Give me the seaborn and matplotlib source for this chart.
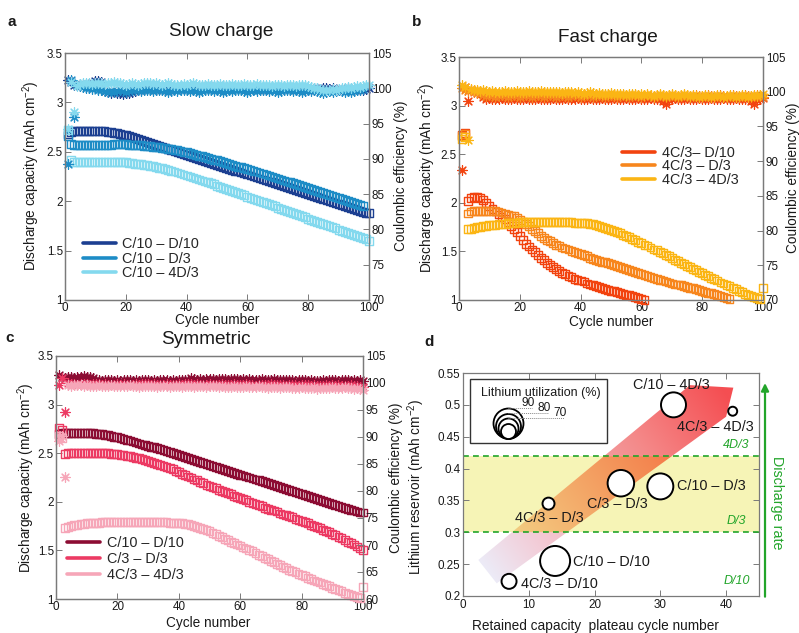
import numpy as np
import pandas as pd
import matplotlib
matplotlib.use("Agg")
import matplotlib.pyplot as plt
import seaborn as sns
from matplotlib.lines import Line2D
from matplotlib.patches import Polygon, Rectangle

# ----------------------------------------------------------------- data
cap_ticks = [1, 1.5, 2, 2.5, 3, 3.5]
cap_tick_labels = ["1", "1.5", "2", "2.5", "3", "3.5"]
cycle_ticks = [0, 20, 40, 60, 80, 100]

# Panel a: slow charge
a_labels = ["C/10 \u2013 D/10", "C/10 \u2013 D/3", "C/10 \u2013 4D/3"]
a_colors = ["#1c3f91", "#1d8cc6", "#84d9ee"]
a_cap_d10 = [2.68,2.70,2.71,2.71,2.71,2.71,2.71,2.71,2.71,2.71,
             2.71,2.71,2.71,2.70,2.70,2.69,2.69,2.68,2.67,2.67,
             2.66,2.65,2.64,2.63,2.62,2.61,2.60,2.59,2.58,2.57,
             2.56,2.55,2.54,2.53,2.52,2.51,2.50,2.49,2.48,2.47,
             2.46,2.45,2.44,2.43,2.42,2.41,2.40,2.39,2.38,2.37,
             2.36,2.35,2.34,2.33,2.32,2.31,2.30,2.29,2.28,2.27,
             2.26,2.25,2.24,2.23,2.22,2.21,2.20,2.19,2.18,2.17,
             2.16,2.15,2.14,2.13,2.12,2.11,2.10,2.09,2.08,2.07,
             2.06,2.05,2.04,2.03,2.02,2.01,2.00,1.99,1.98,1.97,
             1.96,1.95,1.94,1.93,1.92,1.91,1.90,1.89,1.88,1.88]
a_cap_d3 = [2.66,2.58,2.57,2.57,2.57,2.57,2.57,2.57,2.57,2.57,
            2.57,2.57,2.57,2.57,2.57,2.58,2.58,2.58,2.58,2.58,
            2.57,2.57,2.57,2.57,2.57,2.56,2.56,2.56,2.55,2.55,
            2.55,2.54,2.54,2.53,2.53,2.52,2.52,2.51,2.50,2.50,
            2.49,2.48,2.47,2.46,2.46,2.45,2.44,2.43,2.42,2.42,
            2.41,2.40,2.39,2.38,2.37,2.36,2.35,2.35,2.34,2.33,
            2.32,2.31,2.30,2.29,2.28,2.27,2.26,2.25,2.24,2.23,
            2.22,2.21,2.20,2.19,2.18,2.17,2.16,2.15,2.14,2.13,
            2.12,2.11,2.10,2.09,2.08,2.07,2.06,2.05,2.04,2.03,
            2.02,2.01,2.00,1.99,1.98,1.97,1.96,1.95]
a_cap_4d3 = [2.72,2.42,2.40,2.40,2.40,2.40,2.40,2.40,2.40,2.40,
             2.40,2.40,2.40,2.40,2.40,2.40,2.40,2.40,2.40,2.40,
             2.39,2.39,2.38,2.38,2.38,2.37,2.37,2.36,2.36,2.35,
             2.34,2.34,2.33,2.32,2.31,2.30,2.29,2.28,2.27,2.26,
             2.25,2.24,2.23,2.22,2.21,2.20,2.19,2.18,2.17,2.15,
             2.14,2.13,2.12,2.11,2.10,2.09,2.08,2.07,2.06,2.04,
             2.03,2.02,2.01,2.00,1.99,1.98,1.97,1.96,1.95,1.93,
             1.92,1.91,1.90,1.89,1.88,1.87,1.86,1.85,1.84,1.82,
             1.81,1.80,1.79,1.78,1.77,1.76,1.75,1.74,1.73,1.71,
             1.70,1.69,1.68,1.67,1.66,1.65,1.64,1.63,1.62,1.60]
a_ce_d10 = [101.2,100.9,100.5,100.4,100.6,100.5,100.4,100.6,100.8,101.0,
            101.1,100.9,99.6,99.5,99.4,99.5,99.3,99.4,99.2,99.3,
            99.4,99.5,99.6,99.7,99.8,99.9,100.0,99.9,100.0,99.8,
            99.9,100.0,99.9,99.8,99.9,100.0,100.1,99.9,100.0,99.9,
            100.0,100.1,99.9,100.0,100.2,100.1,100.3,100.2,100.1,100.3,
            100.2,100.3,100.1,100.2,100.0,100.1,100.2,100.0,100.1,99.9,
            100.0,100.1,99.9,100.0,99.8,99.9,100.0,99.9,100.1,100.0,
            99.9,100.0,100.1,99.9,100.0,99.8,99.9,100.0,99.9,99.8,
            99.9,100.1,100.0,99.9,100.1,100.0,99.9,100.0,99.8,99.7,
            99.8,99.9,100.0,99.7,99.8,99.9,99.8,99.7,99.9,100.0]
a_ce_d3 = [89.3,101.2,96.0,100.5,100.3,100.2,100.1,100.0,99.9,100.0,
           99.8,99.7,99.6,99.5,99.6,99.5,99.6,99.7,99.6,99.5,
           99.6,99.7,99.8,99.7,99.6,99.7,99.8,99.7,99.6,99.7,
           99.8,99.7,99.6,99.5,99.6,99.7,99.6,99.7,99.8,99.7,
           99.6,99.7,99.6,99.5,99.6,99.7,99.8,99.7,99.6,99.7,
           99.6,99.5,99.6,99.7,99.6,99.7,99.8,99.7,99.6,99.5,
           99.6,99.7,99.6,99.7,99.8,99.7,99.6,99.7,99.6,99.5,
           99.6,99.7,99.8,99.7,99.6,99.7,99.6,99.5,99.6,99.7,
           99.6,99.7,99.6,99.5,99.4,99.5,99.6,99.5,99.6,99.7,
           99.6,99.5,99.6,99.5,99.6,99.7,99.8,99.9]
a_ce_4d3 = [94.2,100.9,96.7,100.3,100.6,100.7,100.8,100.7,100.6,100.7,
            100.8,100.7,100.6,100.7,100.8,100.9,100.8,100.7,100.6,100.5,
            100.6,100.7,100.6,100.5,100.6,100.7,100.8,100.7,100.6,100.7,
            100.6,100.5,100.6,100.7,100.6,100.5,100.4,100.5,100.6,100.5,
            100.6,100.7,100.6,100.5,100.4,100.5,100.6,100.5,100.4,100.5,
            100.6,100.5,100.4,100.5,100.6,100.5,100.4,100.5,100.6,100.5,
            100.4,100.5,100.6,100.5,100.4,100.5,100.4,100.3,100.4,100.5,
            100.4,100.3,100.4,100.5,100.4,100.3,100.4,100.5,100.4,100.3,
            100.2,100.1,100.0,99.9,99.8,99.7,99.8,99.9,99.8,99.9,
            100.0,100.1,100.2,100.1,100.2,100.3,100.2,100.3,100.4,100.5]

# Panel b: fast charge
b_labels = ["4C/3\u2013 D/10", "4C/3 \u2013 D/3", "4C/3 \u2013 4D/3"]
b_colors = ["#f2430f", "#f7861d", "#fbb514"]
b_cap_d10 = [2.70,2.72,2.02,2.05,2.06,2.06,2.05,2.03,2.00,1.97,
             1.94,1.91,1.88,1.85,1.83,1.80,1.76,1.73,1.70,1.66,
             1.62,1.58,1.55,1.52,1.49,1.46,1.43,1.41,1.38,1.36,
             1.34,1.32,1.30,1.28,1.27,1.25,1.24,1.22,1.21,1.20,
             1.19,1.17,1.16,1.15,1.14,1.13,1.12,1.11,1.10,1.09,
             1.09,1.08,1.07,1.06,1.05,1.05,1.04,1.03,1.02,1.01,
             1.00]
b_cap_d3 = [2.69,2.71,1.89,1.91,1.92,1.92,1.92,1.92,1.92,1.92,
            1.92,1.92,1.91,1.90,1.89,1.88,1.87,1.86,1.84,1.82,
            1.80,1.78,1.76,1.73,1.71,1.69,1.66,1.64,1.62,1.61,
            1.59,1.57,1.56,1.54,1.53,1.52,1.50,1.49,1.48,1.47,
            1.46,1.45,1.43,1.42,1.41,1.40,1.39,1.39,1.38,1.37,
            1.36,1.35,1.34,1.33,1.32,1.31,1.30,1.29,1.28,1.27,
            1.26,1.25,1.24,1.23,1.22,1.21,1.20,1.19,1.18,1.17,
            1.16,1.16,1.15,1.14,1.13,1.12,1.12,1.11,1.10,1.09,
            1.08,1.07,1.07,1.06,1.05,1.04,1.03,1.02,1.01]
b_cap_4d3 = [2.66,2.68,1.73,1.73,1.74,1.75,1.75,1.76,1.76,1.77,
             1.77,1.77,1.78,1.78,1.78,1.79,1.79,1.79,1.79,1.80,
             1.80,1.80,1.80,1.80,1.80,1.80,1.80,1.80,1.80,1.80,
             1.80,1.80,1.80,1.80,1.80,1.80,1.80,1.79,1.79,1.79,
             1.79,1.79,1.78,1.78,1.77,1.76,1.75,1.74,1.73,1.72,
             1.71,1.70,1.69,1.67,1.66,1.65,1.63,1.62,1.60,1.59,
             1.57,1.56,1.54,1.52,1.51,1.49,1.48,1.46,1.45,1.43,
             1.41,1.40,1.38,1.37,1.35,1.34,1.32,1.31,1.29,1.28,
             1.26,1.25,1.23,1.22,1.20,1.18,1.17,1.15,1.14,1.12,
             1.11,1.09,1.08,1.06,1.05,1.04,1.03,1.02,1.01,1.12]
b_ce_d10 = [88.7,100.7,98.7,100.2,100.1,100.0,99.9,99.2,99.0,99.1,
            99.0,98.9,99.0,99.1,99.0,98.9,99.0,99.1,99.0,98.9,
            99.0,99.1,99.0,98.9,99.0,99.1,99.0,99.0,98.9,99.0,
            99.1,99.0,98.9,99.0,99.1,99.0,98.9,99.0,99.1,99.0,
            98.9,99.0,99.1,99.0,98.9,99.0,99.1,99.0,98.9,99.0,
            99.1,99.0,98.9,99.0,99.1,99.0,98.9,99.0,99.1,99.0,
            98.9,99.0,99.1,99.0,98.9,99.0,98.6,98.2,98.8,99.0,
            99.1,99.0,98.9,99.0,99.1,99.0,98.9,99.0,99.1,99.0,
            98.9,99.0,99.1,99.0,98.9,99.0,99.1,99.0,98.9,99.0,
            99.1,99.0,98.9,99.0,99.1,98.7,98.2,98.8,99.0,99.1]
b_ce_d3 = [100.6,100.3,100.1,100.2,100.0,99.8,99.6,99.5,99.4,99.5,
           99.4,99.3,99.4,99.5,99.4,99.3,99.4,99.5,99.4,99.3,
           99.4,99.5,99.4,99.3,99.4,99.5,99.4,99.3,99.4,99.5,
           99.4,99.3,99.4,99.5,99.4,99.3,99.4,99.5,99.4,99.3,
           99.4,99.5,99.4,99.3,99.4,99.5,99.4,99.3,99.4,99.5,
           99.4,99.3,99.4,99.5,99.4,99.3,99.4,99.5,99.4,99.3,
           99.4,99.5,99.4,99.3,99.4,99.5,99.4,99.3,99.4,99.5,
           99.4,99.3,99.4,99.5,99.4,99.3,99.4,99.5,99.4,99.3,
           99.4,99.5,99.4,99.3,99.4,99.5,99.4,99.3,99.4,99.5,
           99.4,99.3,99.4,99.5,99.4,99.3,99.4,99.5,99.4,99.3]
b_ce_4d3 = [100.9,100.7,93.0,100.4,100.3,100.2,100.1,100.2,100.1,100.0,
            100.1,100.0,99.9,100.0,100.1,100.0,99.9,100.0,100.1,100.0,
            99.9,100.0,100.1,100.0,99.9,100.0,100.1,100.0,99.9,100.0,
            99.9,100.0,99.9,99.8,99.9,100.0,99.9,99.8,99.9,99.8,
            99.7,99.8,99.9,99.8,99.7,99.8,99.7,99.6,99.7,99.8,
            99.7,99.6,99.7,99.6,99.5,99.6,99.7,99.6,99.5,99.6,
            99.5,99.6,99.5,99.4,99.5,99.6,99.5,99.4,99.5,99.6,
            99.5,99.4,99.5,99.6,99.5,99.4,99.5,99.4,99.3,99.4,
            99.5,99.4,99.3,99.4,99.5,99.4,99.3,99.4,99.5,99.4,
            99.3,99.4,99.5,99.4,99.3,99.4,99.5,99.4,99.5,99.6]

# Panel c: symmetric
c_labels = ["C/10 \u2013 D/10", "C/3 \u2013 D/3", "4C/3 \u2013 4D/3"]
c_colors = ["#8c0c33", "#ec3a63", "#f6a6b8"]
c_cap_d10 = [2.70,2.71,2.71,2.71,2.71,2.71,2.71,2.71,2.71,2.71,
             2.71,2.71,2.70,2.70,2.70,2.69,2.69,2.68,2.67,2.67,
             2.66,2.65,2.64,2.63,2.62,2.61,2.60,2.59,2.58,2.57,
             2.56,2.56,2.55,2.54,2.53,2.52,2.51,2.50,2.49,2.48,
             2.47,2.46,2.45,2.44,2.43,2.42,2.41,2.40,2.39,2.38,
             2.37,2.36,2.35,2.34,2.33,2.32,2.31,2.30,2.29,2.28,
             2.27,2.26,2.25,2.24,2.23,2.22,2.21,2.20,2.19,2.18,
             2.17,2.16,2.15,2.14,2.13,2.12,2.11,2.10,2.09,2.08,
             2.07,2.06,2.05,2.04,2.03,2.02,2.01,2.00,1.99,1.98,
             1.97,1.96,1.95,1.94,1.93,1.92,1.91,1.90,1.89,1.89]
c_cap_d3 = [2.76,2.74,2.49,2.50,2.50,2.50,2.50,2.50,2.50,2.50,
            2.50,2.50,2.50,2.50,2.50,2.50,2.50,2.49,2.49,2.49,
            2.48,2.48,2.47,2.47,2.46,2.45,2.45,2.44,2.43,2.42,
            2.41,2.40,2.39,2.38,2.37,2.36,2.35,2.34,2.32,2.31,
            2.29,2.28,2.26,2.25,2.23,2.22,2.20,2.19,2.17,2.16,
            2.15,2.14,2.12,2.11,2.10,2.09,2.08,2.06,2.05,2.04,
            2.03,2.02,2.00,1.99,1.98,1.97,1.96,1.94,1.93,1.92,
            1.91,1.90,1.88,1.87,1.86,1.85,1.84,1.82,1.81,1.80,
            1.79,1.78,1.76,1.75,1.74,1.73,1.71,1.70,1.69,1.67,
            1.66,1.64,1.63,1.61,1.59,1.58,1.56,1.54,1.52,1.50]
c_cap_4d3 = [2.68,2.66,1.73,1.74,1.75,1.76,1.76,1.77,1.77,1.78,
             1.78,1.78,1.78,1.78,1.79,1.79,1.79,1.79,1.79,1.79,
             1.79,1.79,1.79,1.79,1.79,1.79,1.79,1.79,1.79,1.79,
             1.79,1.79,1.79,1.79,1.79,1.79,1.78,1.78,1.78,1.78,
             1.78,1.77,1.77,1.76,1.75,1.74,1.73,1.72,1.71,1.70,
             1.68,1.67,1.65,1.64,1.62,1.61,1.59,1.58,1.56,1.55,
             1.53,1.52,1.50,1.49,1.47,1.45,1.44,1.42,1.41,1.39,
             1.38,1.36,1.35,1.33,1.32,1.30,1.29,1.28,1.26,1.25,
             1.24,1.22,1.21,1.19,1.18,1.17,1.15,1.14,1.13,1.11,
             1.10,1.09,1.08,1.06,1.05,1.04,1.03,1.02,1.01,1.12]
c_ce_d10 = [101.4,101.2,101.0,101.1,101.2,101.0,101.1,101.2,101.3,101.2,
            101.1,101.0,100.6,100.5,100.4,100.5,100.6,100.5,100.4,100.5,
            100.4,100.5,100.6,100.5,100.4,100.5,100.4,100.5,100.6,100.5,
            100.4,100.5,100.4,100.5,100.6,100.5,100.4,100.5,100.4,100.5,
            100.6,100.5,100.6,100.9,100.7,100.6,100.7,100.6,100.7,100.8,
            100.7,100.6,100.7,100.8,100.7,100.6,100.7,100.8,100.7,100.6,
            100.7,100.6,100.7,100.6,100.5,100.6,100.7,100.6,100.5,100.6,
            100.7,100.6,100.5,100.6,100.5,100.6,100.5,100.4,100.5,100.6,
            100.5,100.4,100.5,100.4,100.3,100.4,100.5,100.4,100.5,100.6,
            100.5,100.4,100.5,100.6,100.5,100.4,100.5,100.4,100.5,100.3]
c_ce_d3 = [99.6,101.0,94.7,100.0,99.9,99.8,99.7,99.8,99.9,99.8,
           99.7,99.8,99.9,99.8,99.7,99.8,99.7,99.6,99.7,99.8,
           99.7,99.8,99.7,99.6,99.7,99.8,99.7,99.8,99.9,99.8,
           99.7,99.8,99.7,99.6,99.7,99.8,99.7,99.6,99.7,99.8,
           99.7,99.8,99.9,99.8,99.7,99.8,99.7,99.6,99.7,99.8,
           99.7,99.6,99.7,99.8,99.7,99.6,99.7,99.8,99.7,99.6,
           99.7,99.8,99.7,99.6,99.5,99.6,99.7,99.6,99.7,99.8,
           99.7,99.6,99.7,99.6,99.5,99.6,99.7,99.6,99.5,99.6,
           99.7,99.6,99.5,99.6,99.5,99.4,99.5,99.6,99.5,99.6,
           99.5,99.6,99.5,99.4,99.5,99.6,99.5,99.4,99.3,99.2]
c_ce_4d3 = [89.2,90.1,82.5,99.6,99.5,99.6,99.7,99.6,99.5,99.6,
            99.5,99.4,99.5,99.6,99.5,99.4,99.5,99.6,99.5,99.4,
            99.5,99.4,99.5,99.6,99.5,99.4,99.3,99.4,99.5,99.4,
            99.5,99.4,99.3,99.4,99.5,99.4,99.3,99.4,99.5,99.4,
            99.3,99.4,99.5,99.4,99.3,99.4,99.5,99.4,99.3,99.4,
            99.5,99.4,99.3,99.4,99.3,99.2,99.3,99.4,99.3,99.2,
            99.3,99.4,99.3,99.2,99.3,99.4,99.3,99.2,99.1,99.2,
            99.3,99.2,99.1,99.2,99.3,99.2,99.1,99.0,99.1,99.2,
            99.1,99.0,99.1,99.2,98.9,99.0,99.1,99.0,99.1,99.2,
            99.1,99.0,99.1,99.2,99.1,99.0,98.9,99.0,98.8,98.7]

# Panel d: bubble chart
d_labels = ["C/10 \u2013 4D/3", "4C/3 \u2013 4D/3", "C/10 \u2013 D/3", "C/3 \u2013 D/3",
            "4C/3 \u2013 D/3", "C/10 \u2013 D/10", "4C/3 \u2013 D/10"]
d_plateau = [32, 41, 30, 24, 13, 14, 7]
d_reservoir = [0.500, 0.490, 0.372, 0.377, 0.345, 0.255, 0.223]
d_utilization = [80, 48, 82, 83, 54, 90, 60]
d_legend_util = [90, 80, 70, 60]
d_legend_labels = ["90", "80", "70"]
d_band = [0.30, 0.42]
d_rate_labels = ["4D/3", "D/3", "D/10"]
d_xticks = [0, 10, 20, 30, 40]
d_yticks = [0.2, 0.25, 0.3, 0.35, 0.4, 0.45, 0.5, 0.55]
d_ytick_labels = ["0.2", "0.25", "0.3", "0.35", "0.4", "0.45", "0.5", "0.55"]

# ----------------------------------------------------------------- style
sns.set_theme(style="ticks")
plt.rcParams["font.family"] = ["Liberation Sans", "DejaVu Sans"]
plt.rcParams["mathtext.fontset"] = "custom"
plt.rcParams["mathtext.rm"] = "Liberation Sans"
plt.rcParams["mathtext.it"] = "Liberation Sans:italic"

W, H = 799, 633
fig = plt.figure(figsize=(W / 100, H / 100), dpi=100)
SPINE = "#7a7a7a"
TXT = "#1a1a1a"
GREEN = "#22a52a"
TICK_FS = 8.4


def axes_px(l, t, r, b):
    return fig.add_axes([l / W, 1 - b / H, (r - l) / W, (b - t) / H])


def ftext(x, y, s, **kw):
    kw.setdefault("ha", "center")
    kw.setdefault("va", "center")
    kw.setdefault("color", TXT)
    fig.text(x / W, 1 - y / H, s, **kw)


def style_axes(ax):
    for sp in ax.spines.values():
        sp.set_color(SPINE)
        sp.set_linewidth(0.9)


def cycling_panel(ax, caps, ces, colors, labels, ce_lo, leg_xy, leg_sp):
    ax2 = ax.twinx()
    for cap, col in zip(caps, colors):
        df = pd.DataFrame({"Cycle": np.arange(1, len(cap) + 1), "Capacity": cap})
        sns.scatterplot(data=df, x="Cycle", y="Capacity", ax=ax, marker="s", s=32,
                        color=col, facecolor="none", edgecolor=col, linewidth=1.0,
                        legend=False, clip_on=False, zorder=3)
    for ce, col in zip(ces, colors):
        df = pd.DataFrame({"Cycle": np.arange(1, len(ce) + 1), "CE": ce})
        sns.scatterplot(data=df, x="Cycle", y="CE", ax=ax2, marker=(8, 2, 0), s=48,
                        color=col, linewidth=0.85, legend=False, clip_on=False)
    ax.set_xlim(0, 100)
    ax.set_ylim(1, 3.5)
    ax2.set_ylim(ce_lo, 105)
    ax.set_xticks(cycle_ticks)
    ax.set_yticks(cap_ticks)
    ax.set_yticklabels(cap_tick_labels)
    ax2.set_yticks(list(range(ce_lo, 106, 5)))
    for a in (ax, ax2):
        a.set_xlabel("")
        a.set_ylabel("")
        style_axes(a)
    ax.tick_params(direction="in", length=4, width=0.7, color=SPINE, labelcolor=TXT,
                   labelsize=TICK_FS, top=True, right=False, pad=1.5)
    ax2.tick_params(direction="in", length=4, width=0.7, color=SPINE, labelcolor=TXT,
                    labelsize=TICK_FS, right=True, pad=2.0)
    handles = [Line2D([0], [0], color=c, lw=2.6) for c in colors]
    ax.legend(handles, labels, loc="upper left", bbox_to_anchor=leg_xy, frameon=False,
              fontsize=10.4, handlelength=2.3, handletextpad=0.45, borderpad=0,
              borderaxespad=0, labelspacing=leg_sp)
    return ax2


# ----------------------------------------------------------------- panel a
ax_a = axes_px(65, 53, 369, 300)
cycling_panel(ax_a, [a_cap_d10, a_cap_d3, a_cap_4d3], [a_ce_d10, a_ce_d3, a_ce_4d3],
              a_colors, a_labels, 70, (0.058, 0.255), 0.05)
ftext(221, 31, "Slow charge", fontsize=13.7)
ftext(12, 22, "a", fontsize=11, fontweight="bold")
ftext(31, 176, "Discharge capacity (mAh cm$^{-2}$)", fontsize=9.8, rotation=90)
ftext(401, 176, "Coulombic efficiency (%)", fontsize=9.8, rotation=90)
ftext(217, 320, "Cycle number", fontsize=9.8)

# ----------------------------------------------------------------- panel b
ax_b = axes_px(459, 57, 763, 300)
cycling_panel(ax_b, [b_cap_d10, b_cap_d3, b_cap_4d3], [b_ce_d10, b_ce_d3, b_ce_4d3],
              b_colors, b_labels, 70, (0.537, 0.635), -0.02)
ftext(608, 37, "Fast charge", fontsize=13.7)
ftext(417, 22, "b", fontsize=11, fontweight="bold")
ftext(427, 178, "Discharge capacity (mAh cm$^{-2}$)", fontsize=9.8, rotation=90)
ftext(793, 178, "Coulombic efficiency (%)", fontsize=9.8, rotation=90)
ftext(611, 322, "Cycle number", fontsize=9.8)

# ----------------------------------------------------------------- panel c
ax_c = axes_px(56, 356, 363, 599)
cycling_panel(ax_c, [c_cap_d10, c_cap_d3, c_cap_4d3], [c_ce_d10, c_ce_d3, c_ce_4d3],
              c_colors, c_labels, 60, (0.036, 0.26), 0.15)
ftext(206, 340, "Symmetric", fontsize=13.7)
ftext(10, 338, "c", fontsize=11, fontweight="bold")
ftext(26, 478, "Discharge capacity (mAh cm$^{-2}$)", fontsize=9.8, rotation=90)
ftext(396, 478, "Coulombic efficiency (%)", fontsize=9.8, rotation=90)
ftext(208, 623, "Cycle number", fontsize=9.8)

# ----------------------------------------------------------------- panel d
ax_d = axes_px(463, 373, 759, 596)
ax_d.set_xlim(0, 45)
ax_d.set_ylim(0.2, 0.55)

# discharge-rate band
ax_d.axhspan(d_band[0], d_band[1], color="#f6f4b6", zorder=0, lw=0)
for yb in d_band:
    ax_d.axhline(yb, color=GREEN, ls=(0, (3.5, 2.5)), lw=1.2, zorder=2)

# broad gradient arrow (decoration)
arrow_pts = [(2.33, 0.2565), (34.5, 0.531), (41.1, 0.527), (40.0, 0.4814), (5.12, 0.2199)]
poly = Polygon(arrow_pts, closed=True, facecolor="none", edgecolor="none",
               transform=ax_d.transData)
ax_d.add_patch(poly)
nx, ny = 450, 300
gx = np.linspace(0, 45, nx)
gy = np.linspace(0.2, 0.55, ny)
GX, GY = np.meshgrid(gx, gy)
PX = GX / 45 * 296
PY = (GY - 0.2) / 0.35 * 223
T = np.array([24.5, 24.4])
Hh = np.array([265.0, 200.0])
v = Hh - T
t = ((PX - T[0]) * v[0] + (PY - T[1]) * v[1]) / (v @ v)
t = np.clip(t, 0, 1)
stops = [0.0, 0.2, 0.66, 1.0]
rgb_stops = np.array([[236, 235, 247], [243, 203, 214], [244, 138, 138], [245, 78, 82]]) / 255
img = np.dstack([np.interp(t, stops, rgb_stops[:, k]) for k in range(3)])
inband = (GY >= d_band[0]) & (GY <= d_band[1])
img[inband] = img[inband] * np.array([1.0, 0.97, 0.58])
im = ax_d.imshow(img, extent=[0, 45, 0.2, 0.55], origin="lower", aspect="auto",
                 zorder=1, interpolation="bilinear")
im.set_clip_path(poly)


def util_area(u):
    d_px = 30 - (90 - np.asarray(u, dtype=float)) * 0.5
    return (d_px * 0.72) ** 2


df_d = pd.DataFrame({"plateau": d_plateau, "reservoir": d_reservoir,
                     "util": d_utilization})
sns.scatterplot(data=df_d, x="plateau", y="reservoir", ax=ax_d, s=util_area(df_d["util"]),
                color="white", edgecolor="black", linewidth=1.4, legend=False, zorder=4)

lab_pos = [(31.7, 0.531, "center"), (38.3, 0.465, "center"), (32.6, 0.372, "left"),
           (23.4, 0.344, "center"), (13.2, 0.322, "center"), (16.7, 0.254, "left"),
           (14.6, 0.219, "center")]
for lab, (lx, ly, ha) in zip(d_labels, lab_pos):
    ax_d.text(lx, ly, lab, ha=ha, va="center", fontsize=10.4, color=TXT, zorder=5)

for lab, ly in zip(d_rate_labels, [0.437, 0.318, 0.224]):
    ax_d.text(41.6, ly, lab, ha="center", va="center", fontsize=9, color=GREEN,
              style="italic", zorder=5)

ax_d.set_xticks(d_xticks)
ax_d.set_yticks(d_yticks)
ax_d.set_yticklabels(d_ytick_labels)
ax_d.set_xlabel("")
ax_d.set_ylabel("")
style_axes(ax_d)
ax_d.tick_params(direction="in", length=4, width=0.7, color=SPINE, labelcolor=TXT,
                 labelsize=TICK_FS, top=True, right=True, pad=2.0)

# inset legend for lithium utilization
ax_d.add_patch(Rectangle((0.0236, 0.688), 0.463, 0.287, transform=ax_d.transAxes,
                         facecolor="white", edgecolor="#333333", lw=1.0, zorder=6))
ftext(541, 393, "Lithium utilization (%)", fontsize=9, zorder=8)
cx_px, cb_px = 508, 438
for u in d_legend_util:
    dpx = 30 - (90 - u) * 0.5
    yc = (596 - cb_px + dpx / 2) / 223
    ax_d.scatter([(cx_px - 463) / 296], [yc], s=util_area(u), transform=ax_d.transAxes,
                 facecolor="white", edgecolor="black", linewidth=1.3, zorder=7,
                 clip_on=False)
for i, lab in enumerate(d_legend_labels):
    dpx = 30 - i * 5
    ytop = cb_px - dpx
    xend = 524 + i * 16
    ax_d.plot([(cx_px - 463) / 296, (xend + 8 - 463) / 296],
              [(596 - ytop) / 223] * 2, transform=ax_d.transAxes, color="#888888",
              lw=0.7, ls=(0, (1, 1)), zorder=7)
    ftext(xend + 4, ytop - 5, lab, fontsize=8.6, zorder=8)

# discharge-rate arrow
ax_d.annotate("", xy=(1.0203, 0.955), xycoords="axes fraction", xytext=(1.0203, -0.003),
              textcoords="axes fraction",
              arrowprops=dict(arrowstyle="-|>", color=GREEN, lw=1.6, mutation_scale=11,
                              shrinkA=0, shrinkB=0),
              annotation_clip=False)
ftext(777, 503, "Discharge rate", fontsize=10.3, rotation=-90, color=GREEN)

ftext(429, 342, "d", fontsize=11, fontweight="bold")
ftext(416, 487, "Lithium reservoir (mAh cm$^{-2}$)", fontsize=9.8, rotation=90)
ftext(595, 626, "Retained capacity  plateau cycle number", fontsize=9.8)

fig.savefig("out.png", dpi=100)
